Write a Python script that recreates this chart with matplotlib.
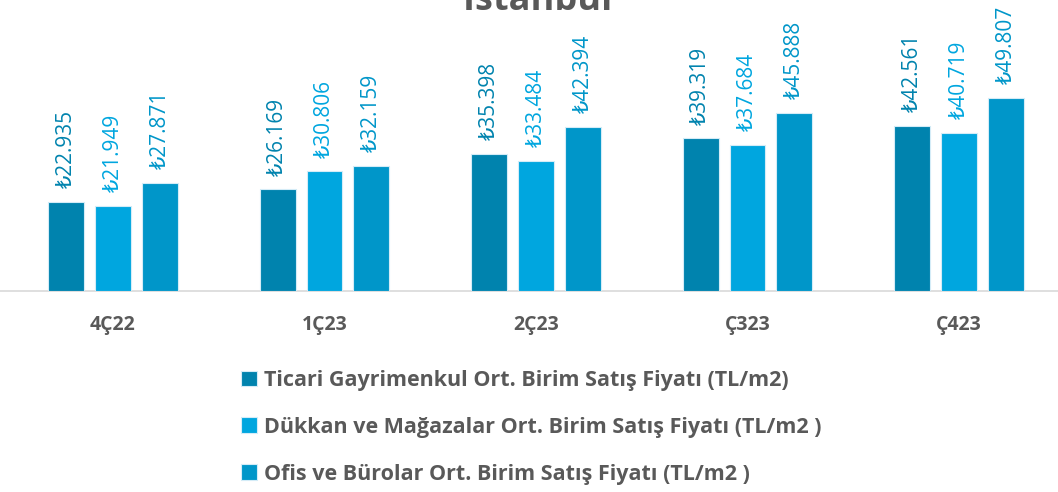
import matplotlib
matplotlib.use("Agg")
import matplotlib.pyplot as plt
import numpy as np

# ── data ────────────────────────────────────────────────────────────────
categories = ["4Ç22", "1Ç23", "2Ç23", "Ç323", "Ç423"]
ticari = [22.935, 26.169, 35.398, 39.319, 42.561]
dukkan = [21.949, 30.806, 33.484, 37.684, 40.719]
ofis = [27.871, 32.159, 42.394, 45.888, 49.807]
series_names = [
    "Ticari Gayrimenkul Ort. Birim Satış Fiyatı (TL/m2)",
    "Dükkan ve Mağazalar Ort. Birim Satış Fiyatı (TL/m2 )",
    "Ofis ve Bürolar Ort. Birim Satış Fiyatı (TL/m2 )",
]

# ── style ───────────────────────────────────────────────────────────────
COLORS = ["#0083AE", "#00A6DF", "#0096C9"]
GRAY = "#595959"
FONT = ["Open Sans", "DejaVu Sans"]
plt.rcParams["font.family"] = FONT

fig = plt.figure(figsize=(10.58, 4.92), dpi=100)
ax = fig.add_axes([0, 1 - 291 / 492, 1, 291 / 492])

x = np.arange(len(categories))
width = 0.17
offset = 0.222
for i, vals in enumerate([ticari, dukkan, ofis]):
    pos = x + (i - 1) * offset
    bars = ax.bar(pos, vals, width, color=COLORS[i], edgecolor="#d4ecf7",
                  linewidth=0.8, label=series_names[i], zorder=3)
    for b, v in zip(bars, vals):
        ax.annotate(f"₺{v:.3f}", (b.get_x() + b.get_width() / 2, v),
                    xytext=(0, 10), textcoords="offset points",
                    rotation=90, ha="center", va="bottom",
                    fontsize=15, color=COLORS[i], family=FONT)

ax.set_xlim(-113 / 211.5, (1058 - 113) / 211.5)
ax.set_ylim(0, 75)
ax.set_xticks(x)
ax.set_xticklabels(categories, fontsize=14, fontweight="bold", color=GRAY)
ax.tick_params(axis="x", length=0, pad=17)
ax.set_yticks([])
for s in ["top", "right", "left"]:
    ax.spines[s].set_visible(False)
ax.spines["bottom"].set_color("#d9d9d9")
ax.spines["bottom"].set_linewidth(1.2)
ax.patch.set_alpha(0)

fig.text(538 / 1058, 1 - 10 / 492, "İstanbul", ha="center", va="baseline",
         fontsize=26, fontweight="bold", color=GRAY)

leg = fig.legend(loc="upper left", bbox_to_anchor=(241 / 1058, 1 - 370 / 492),
                 frameon=False, fontsize=15.5, handlelength=0.75,
                 handleheight=0.75, handletextpad=0.3, labelspacing=1.2,
                 borderaxespad=0, borderpad=0)
for t in leg.get_texts():
    t.set_color(GRAY)
    t.set_fontweight("bold")

fig.savefig("out.png", dpi=100, facecolor="white")
